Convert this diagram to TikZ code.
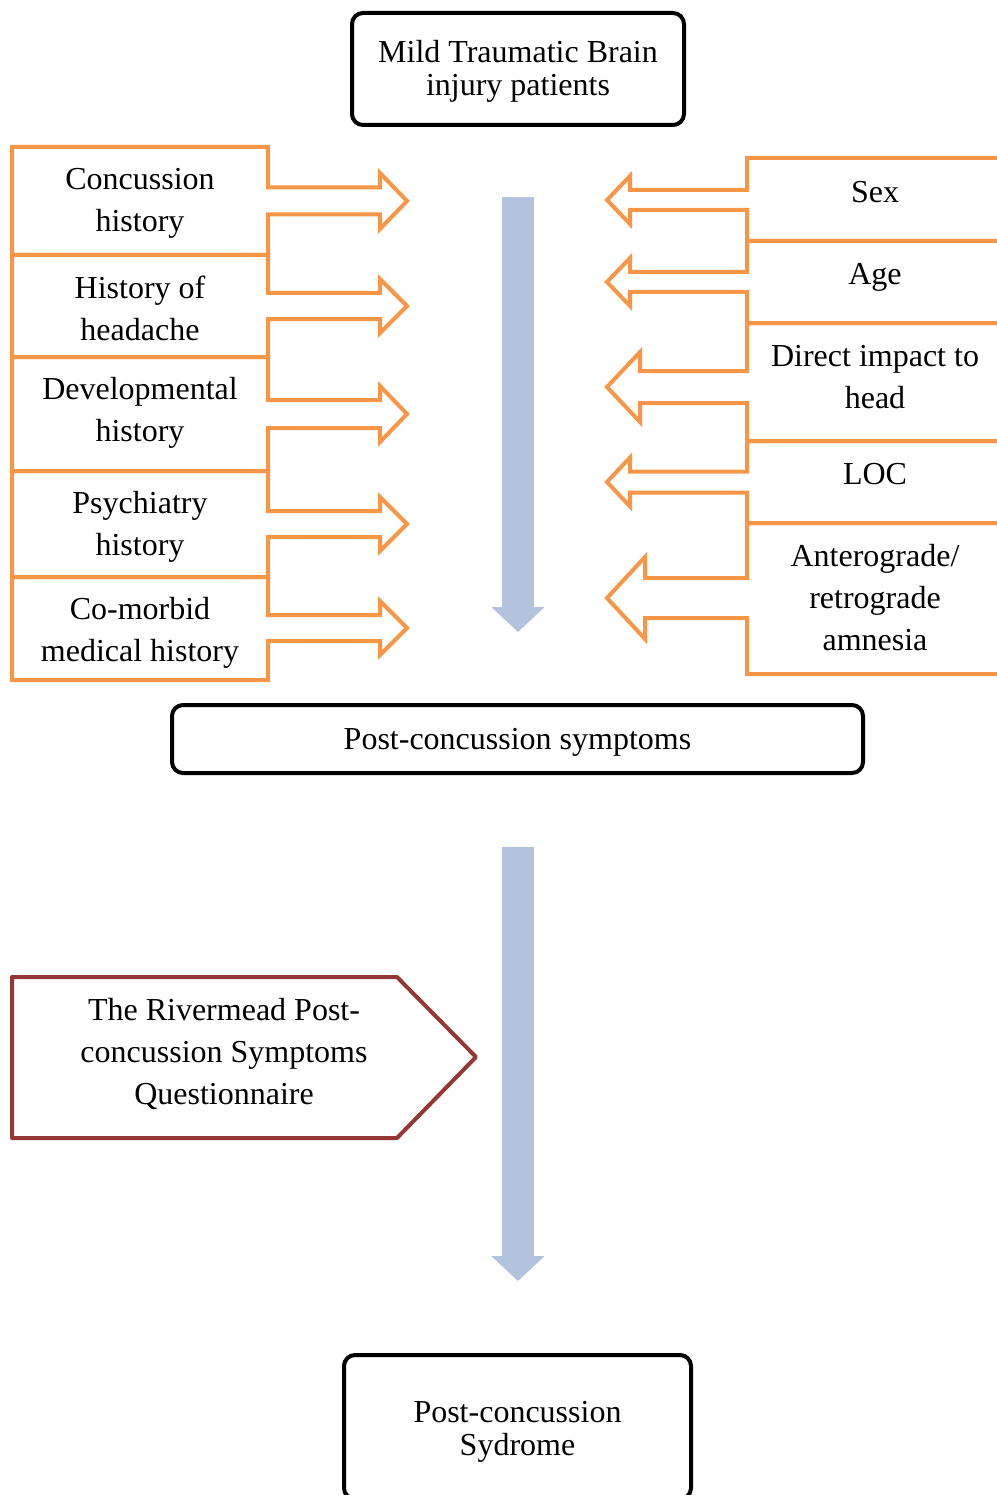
\documentclass[tikz,border=0pt]{standalone}
\usepackage{fontspec}
\setmainfont{Liberation Serif}
\usetikzlibrary{arrows.meta}
\definecolor{orng}{HTML}{F79646}
\definecolor{rivred}{HTML}{953735}
\definecolor{flowblue}{HTML}{B4C3DD}
\tikzset{
  callout/.style={orng,line width=4pt,line join=miter},
  quest/.style={rivred,line width=4pt,line join=round},
  rbox/.style={draw=black,line width=4pt,rounded corners=11pt,align=center,inner sep=0pt},
  lbl/.style={align=center,font=\fontsize{32}{42}\selectfont,inner sep=0pt},
  flow/.style={flowblue,line width=32pt,-{Triangle[length=25pt,width=52pt]}},
}
% left factor box: top, bottom, middle, shaft half, head half
\newcommand{\leftcallout}[5]{%
  \draw[callout] (268,#3-#4) -- (268,#1) -- (12,#1) -- (12,#2) -- (268,#2)
    -- (268,#3+#4) -- (380,#3+#4) -- (380,#3+#5) -- (407,#3)
    -- (380,#3-#5) -- (380,#3-#4) -- cycle;}
% right factor box: top, bottom, middle, shaft half, head half, head base
\newcommand{\rightcallout}[6]{%
  \draw[callout] (747,#3-#4) -- (747,#1) -- (1003,#1) -- (1003,#2) -- (747,#2)
    -- (747,#3+#4) -- (#6,#3+#4) -- (#6,#3+#5) -- (607,#3)
    -- (#6,#3-#5) -- (#6,#3-#4) -- cycle;}
% lower text inside a fixed box
\newcommand{\lowered}[2]{\raisebox{-#1}[\height][\depth]{\begin{tabular}{@{}c@{}}#2\end{tabular}}}

\begin{document}
\begin{tikzpicture}[x=1pt,y=-1pt]
  \useasboundingbox (0,0) rectangle (996,1495);

  \node[rbox,minimum width=332pt,minimum height=112pt,font=\fontsize{32}{33}\selectfont] (mtbi) at (518,69) {\lowered{3pt}{Mild Traumatic Brain\\injury patients}};

  % left factors
  \leftcallout{147}{255}{201}{13.5}{28}
  \leftcallout{255}{357}{306}{13}{27}
  \leftcallout{357}{471}{414}{14}{28}
  \leftcallout{471}{577}{524}{13}{27}
  \leftcallout{577}{680}{628}{13}{27}
  \node[lbl] (conc) at (140,203) {Concussion\\history};
  \node[lbl] (head) at (140,308) {History of\\headache};
  \node[lbl] (devel) at (140,413) {Developmental\\history};
  \node[lbl] (psych) at (140,527) {Psychiatry\\history};
  \node[lbl] (comorb) at (140,633) {Co-morbid\\medical history};

  % right factors
  \rightcallout{158}{241}{200}{10}{24}{630}
  \rightcallout{241}{323}{282}{10}{24}{630}
  \rightcallout{323}{441}{387}{16}{35}{640}
  \rightcallout{441}{523}{482}{10.5}{24.5}{630}
  \rightcallout{523}{674}{598}{20}{41}{645}
  \node[lbl] (sex) at (875,192) {Sex};
  \node[lbl] (age) at (875,277) {Age};
  \node[lbl] (impact) at (875,377) {Direct impact to\\head};
  \node[lbl] (loc) at (875,474) {LOC};
  \node[lbl] (amnes) at (875,598) {Anterograde/\\retrograde\\amnesia};

  \coordinate (f1s) at (518,197);
  \coordinate (f1e) at (518,632);
  \draw[flow] (f1s) -- (f1e);

  \node[rbox,minimum width=691pt,minimum height=68pt,font=\fontsize{32}{36}\selectfont] (pcs) at (517.5,739) {\lowered{3pt}{Post-concussion symptoms}};

  \coordinate (f2s) at (518,847);
  \coordinate (f2e) at (518,1281);
  \draw[flow] (f2s) -- (f2e);

  \draw[quest] (12,977) -- (397,977) -- (476,1057) -- (397,1138) -- (12,1138) -- cycle;
  \node[lbl] (rpq) at (224,1054) {The Rivermead Post-\\concussion Symptoms\\Questionnaire};

  \node[rbox,minimum width=347pt,minimum height=144pt,font=\fontsize{32}{33}\selectfont] (pcsyn) at (517.5,1427) {\lowered{5pt}{Post-concussion\\Sydrome}};
\end{tikzpicture}
\end{document}
